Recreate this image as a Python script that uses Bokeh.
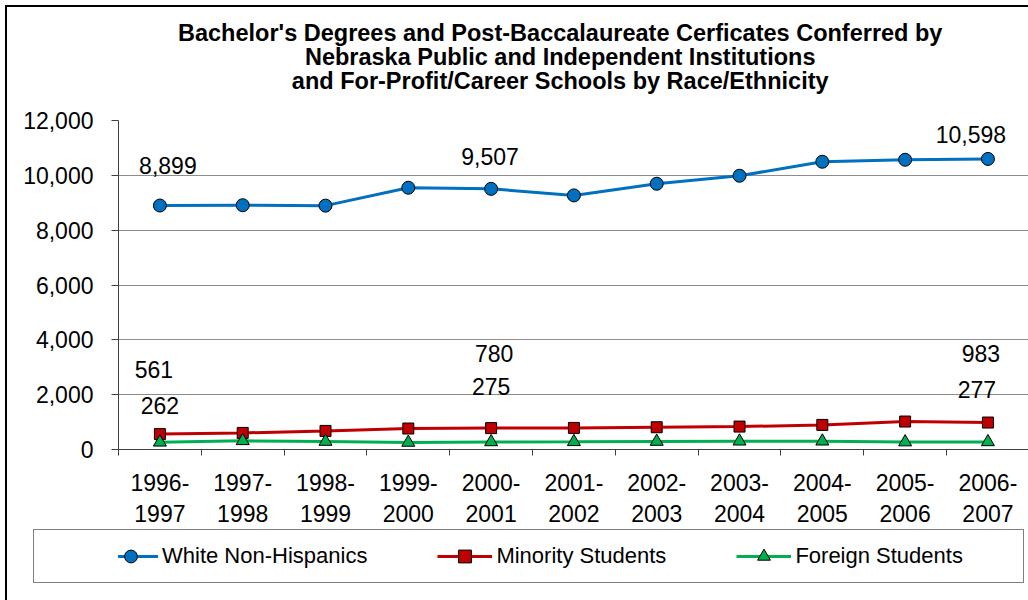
from bokeh.plotting import figure
from bokeh.layouts import column
from bokeh.models import (ColumnDataSource, Range1d, FixedTicker, Legend, LegendItem,
                          NumeralTickFormatter, Div)
from bokeh.core.properties import value
from bokeh.embed import file_html
from bokeh.resources import INLINE

# ---------------- data ----------------
years = ["1996-1997", "1997-1998", "1998-1999", "1999-2000", "2000-2001", "2001-2002",
         "2002-2003", "2003-2004", "2004-2005", "2005-2006", "2006-2007"]
white = [8899, 8910, 8895, 9548, 9507, 9268, 9693, 9985, 10495, 10568, 10598]
minority = [561, 605, 678, 765, 780, 787, 812, 836, 897, 1020, 983]
foreign = [262, 315, 290, 255, 275, 280, 290, 300, 300, 270, 277]
series_names = ["White Non-Hispanics", "Minority Students", "Foreign Students"]
labeled_idx = [0, 4, 10]
y_ticks = [0, 2000, 4000, 6000, 8000, 10000, 12000]
title_lines = ["Bachelor's Degrees and Post-Baccalaureate Cerficates Conferred by",
               "Nebraska Public and Independent Institutions",
               "and For-Profit/Career Schools by Race/Ethnicity"]

# label placement (pixel offsets), per series, per labeled point
label_dx = [[8, -1, -17], [-6, 3, -7], [0, 0, -11]]
label_dy = [[-40, -32, -24], [-65, -75, -69], [-37, -55, -52]]

FONT = "Liberation Sans"
W = 1028
H_TITLE, H_MAIN, H_LEG = 100, 431, 69
x = list(range(len(years)))

# ---------------- title ----------------
title_div = Div(
    text=('<div style="display:inline-block;font-family:\'Liberation Sans\',Arial,sans-serif;'
          'font-weight:bold;font-size:23.5px;line-height:24px;text-align:center;color:#000;'
          'margin:21px 0 0 178px;white-space:nowrap;">'
          + "<br>".join(title_lines) + "</div>"),
    width=W, height=H_TITLE, margin=0)

# ---------------- main chart ----------------
p = figure(width=W, height=H_MAIN, output_backend="svg", toolbar_location=None,
           x_range=Range1d(-0.5, 10.49), y_range=Range1d(0, 12000),
           min_border_left=118, min_border_right=0, min_border_top=20,
           min_border_bottom=82)
p.outline_line_color = None
p.background_fill_color = "white"
p.border_fill_alpha = 0

p.yaxis.ticker = FixedTicker(ticks=y_ticks)
p.yaxis.formatter = NumeralTickFormatter(format="0,0")
p.yaxis.major_label_text_font = FONT
p.yaxis.major_label_text_font_size = "23px"
p.yaxis.major_label_text_color = "black"
p.yaxis.major_tick_out = 7
p.yaxis.major_tick_in = 0
p.yaxis.minor_tick_line_color = None
p.yaxis.major_label_standoff = 18
p.yaxis.axis_line_color = "#404040"
p.yaxis.major_tick_line_color = "#404040"

p.xaxis.ticker = FixedTicker(ticks=x, minor_ticks=[i - 0.5 for i in range(len(years) + 1)])
p.xaxis.major_label_overrides = {i: y.replace("-", "-\n") for i, y in enumerate(years)}
p.xaxis.major_tick_line_color = None
p.xaxis.minor_tick_out = 6
p.xaxis.minor_tick_in = 0
p.xaxis.minor_tick_line_color = "#404040"
p.xaxis.axis_line_color = "#404040"
p.xaxis.major_label_text_font = FONT
p.xaxis.major_label_text_font_size = "23px"
p.xaxis.major_label_text_color = "black"
p.xaxis.major_label_text_line_height = 1.2
p.xaxis.major_label_standoff = 14

p.xgrid.grid_line_color = None
p.ygrid.grid_line_color = "#8c8c8c"
p.ygrid.grid_line_width = 1

colors = ["#0070C0", "#C00000", "#00B050"]
markers = ["circle", "square", "triangle"]
sizes = [13, 11, 13]
data = [white, minority, foreign]
sources = [ColumnDataSource(dict(x=x, y=vals)) for vals in data]

for k, src in enumerate(sources):
    p.line("x", "y", source=src, line_color=colors[k], line_width=3)
    p.scatter("x", "y", source=src, marker=markers[k], size=sizes[k],
              fill_color=colors[k], line_color="black", line_width=1)

for k, vals in enumerate(data):
    lsrc = ColumnDataSource(dict(
        x=[x[i] for i in labeled_idx],
        y=[vals[i] for i in labeled_idx],
        t=[f"{vals[i]:,}" for i in labeled_idx],
        dx=label_dx[k], dy=label_dy[k]))
    p.text("x", "y", text="t", source=lsrc, x_offset="dx", y_offset="dy",
           text_align="center", text_baseline="middle", text_color="black",
           text_font=value(FONT), text_font_size="23px")

# ---------------- legend strip ----------------
lf = figure(width=W, height=H_LEG, output_backend="svg", toolbar_location=None,
            x_range=Range1d(118, W), y_range=Range1d(0, H_LEG),
            x_axis_type=None, y_axis_type=None,
            min_border_left=118, min_border_right=0, min_border_top=0, min_border_bottom=0)
lf.outline_line_color = None
lf.background_fill_alpha = 0
lf.border_fill_alpha = 0
lf.xgrid.visible = False
lf.ygrid.visible = False

items = []
for k, src in enumerate(sources):   # same series, outside this strip's ranges
    lr = lf.line("x", "y", source=src, line_color=colors[k], line_width=3)
    sr = lf.scatter("x", "y", source=src, marker=markers[k], size=sizes[k],
                    fill_color=colors[k], line_color="black", line_width=1)
    items.append(LegendItem(label=series_names[k], renderers=[lr, sr]))

legend = Legend(items=items, orientation="horizontal", location=(-15, 28),
                glyph_width=55, glyph_height=32, label_height=26, label_standoff=4,
                spacing=70, padding=0, margin=0, border_line_color=None,
                background_fill_alpha=0, label_text_font=FONT,
                label_text_font_size="22px", label_text_color="black")
lf.add_layout(legend, "center")

# chart border (left/top) and legend frame, painted behind the transparent margins
bg = ", ".join([
    "linear-gradient(#000,#000) 5px 5px / 2px 2000px no-repeat",
    "linear-gradient(#000,#000) 5px 5px / 2000px 2px no-repeat",
    "linear-gradient(#808080,#808080) 33px 529px / 991px 1px no-repeat",
    "linear-gradient(#808080,#808080) 33px 582px / 991px 1px no-repeat",
    "linear-gradient(#808080,#808080) 33px 529px / 1px 54px no-repeat",
    "linear-gradient(#808080,#808080) 1023px 529px / 1px 54px no-repeat",
    "#ffffff",
])

layout = column(title_div, p, lf, spacing=0, styles={"background": bg})
open("out.html", "w").write(file_html(layout, INLINE))
